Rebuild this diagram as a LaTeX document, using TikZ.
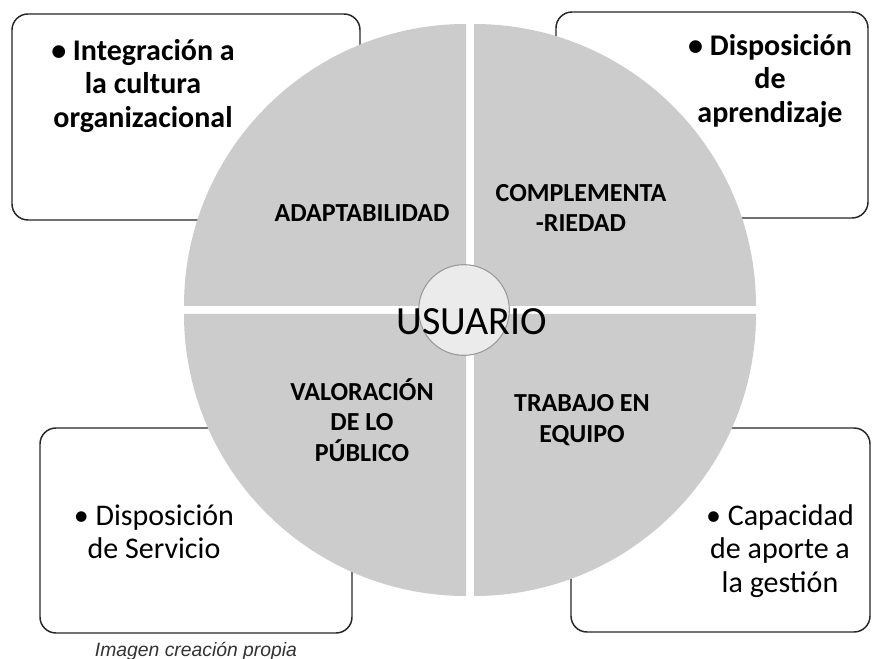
\documentclass[tikz,border=0pt]{standalone}
\usepackage{fontspec}
\setmainfont{Carlito}
\newfontfamily\capfont{Liberation Sans}
\usetikzlibrary{positioning}

\begin{document}
\begin{tikzpicture}[x = 0.75pt, y = 0.75pt, black!85, line width = 1.1pt,
    box/.style = {draw, fill = white, rounded corners = 12pt},
    piece/.style = {fill = black!20},
    boldtext/.style = {align = center, text = black, font = \bfseries\fontsize{22.5}{25}\selectfont},
    plaintext/.style = {align = center, text = black, font = \fontsize{22.5}{25}\selectfont},
    piecetext/.style = {align = center, text = black, font = \bfseries\fontsize{19.5}{23}\selectfont}]

    \fill[white] (-470,310) rectangle (403,-349);
    \useasboundingbox (-470,310) rectangle (403,-349);


    % cajas
    \node (tlbox) at (-284,193) [box, minimum width = 261pt, minimum height = 154.5pt] {};
    \node (trbox) at (242,195) [box, minimum width = 234pt, minimum height = 154.5pt] {};
    \node (blbox) at (-274,-220.5) [box, minimum width = 234pt, minimum height = 153.75pt] {};
    \node (brbox) at (250.5,-220) [box, minimum width = 224.25pt, minimum height = 153pt] {};

    \node (tltext) at (-327,224) [boldtext] {• Integración a\\la cultura\\organizacional};
    \node (trtext) at (300,229) [boldtext] {• Disposición\\de\\aprendizaje};
    \node (bltext) at (-316,-222) [plaintext] {• Disposición\\de Servicio};
    \node (brtext) at (310,-241) [plaintext] {• Capacidad\\de aporte a\\la gestión};


    % cuadrantes
    \fill[piece] (-4,4) -- (-286,4) arc[start angle = 180, end angle = 90, radius = 282] -- cycle;
    \fill[piece] (4,4) -- (4,286) arc[start angle = 90, end angle = 0, radius = 282] -- cycle;
    \fill[piece] (4,-4) -- (286,-4) arc[start angle = 0, end angle = -90, radius = 282] -- cycle;
    \fill[piece] (-4,-4) -- (-4,-286) arc[start angle = 270, end angle = 180, radius = 282] -- cycle;

    \node (adapt) at (-108,97) [piecetext] {ADAPTABILIDAD};
    \node (compl) at (111,102) [piecetext] {COMPLEMENTA\\-RIEDAD};
    \node (valor) at (-108,-110) [piecetext] {VALORACIÓN\\DE LO\\PÚBLICO};
    \node (trab) at (112,-110) [piecetext] {TRABAJO EN\\EQUIPO};

    \node (ring) at (-6,0) [circle, draw = black!40, fill = black!8, line width = 0.8pt, minimum size = 68pt] {};
    \node (user) at (2,-12) [text = black, font = \fontsize{30}{36}\selectfont] {USUARIO};


    \node (caption) [below = 5pt of blbox, inner sep = 1pt, text = black!80, font = \capfont\itshape\fontsize{14.5}{17}\selectfont] {Imagen creación propia};

\end{tikzpicture}
\end{document}
